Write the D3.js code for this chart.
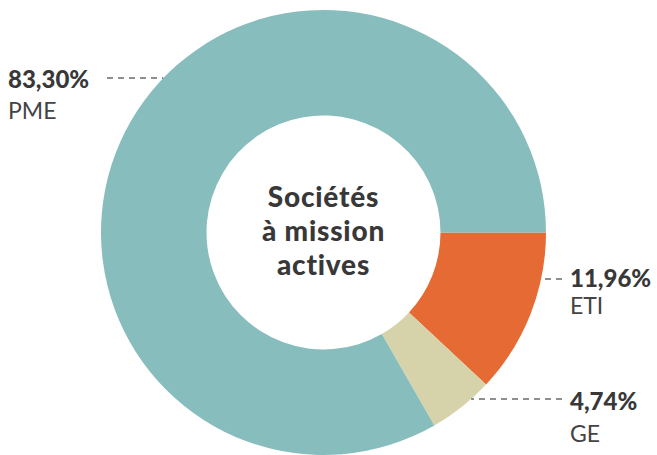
<!DOCTYPE html>
<html><head><meta charset="utf-8">
<script src="https://cdn.jsdelivr.net/npm/d3@7"></script>
<style>html,body{margin:0;padding:0;background:#fff;}svg{display:block;}</style>
</head><body>
<svg id="c" width="657" height="455"></svg>
<script>
const categories = ["ETI", "GE", "PME"];
const values = [11.96, 4.74, 83.30];
const valueLabels = ["11,96%", "4,74%", "83,30%"];
const colors = ["#E66A33", "#D6D3AA", "#88BDBE"];
const centerLines = ["Sociétés", "à mission", "actives"];

const svg = d3.select("#c");
const cx = 323.5, cy = 232.5, rOut = 222.5, rIn = 117;
const font = "Lato, 'Open Sans', sans-serif";
const textColor = "#383838";

const pie = d3.pie().sort(null).startAngle(Math.PI/2).endAngle(Math.PI/2 + 2*Math.PI);
const arcs = pie(values);
const arc = d3.arc().innerRadius(rIn).outerRadius(rOut);
const g = svg.append("g").attr("transform", `translate(${cx},${cy})`);
g.selectAll("path").data(arcs).join("path")
  .attr("d", arc).attr("fill", (d,i)=>colors[i]);

// center text
const ct = svg.append("text").attr("text-anchor","middle")
  .attr("font-family", font).attr("font-weight",900).attr("font-size",28)
  .attr("letter-spacing", 0.8)
  .attr("fill", textColor);
centerLines.forEach((t,i)=>{
  ct.append("tspan").attr("x", cx).attr("y", 207 + i*34).text(t);
});

// labels layout
const layout = {
  "PME": {lineY: 78, side: "left", tx: 8, py: 88, ny: 119, lineStart: 107},
  "ETI": {lineY: 279, side: "right", tx: 570, py: 287, ny: 314, lineStart: 562},
  "GE":  {lineY: 399, side: "right", tx: 570, py: 410, ny: 442, lineStart: 562}
};
categories.forEach((c,i)=>{
  const L = layout[c];
  const dy = L.lineY - cy;
  const dx = Math.sqrt(rOut*rOut - dy*dy);
  const edgeX = L.side === "left" ? cx - dx : cx + dx;
  svg.append("line")
    .attr("x1", L.lineStart).attr("x2", edgeX)
    .attr("y1", L.lineY).attr("y2", L.lineY)
    .attr("stroke", "#6a6a6a").attr("stroke-width", 1.5)
    .attr("stroke-dasharray", "6,5");
  svg.append("text").attr("x", L.tx).attr("y", L.py)
    .attr("font-family", font).attr("font-weight",900).attr("font-size",24)
    .attr("fill", textColor).text(valueLabels[i]);
  svg.append("text").attr("x", L.tx).attr("y", L.ny)
    .attr("font-family", font).attr("font-size",23)
    .attr("fill", "#444").text(c);
});
</script>
</body></html>
